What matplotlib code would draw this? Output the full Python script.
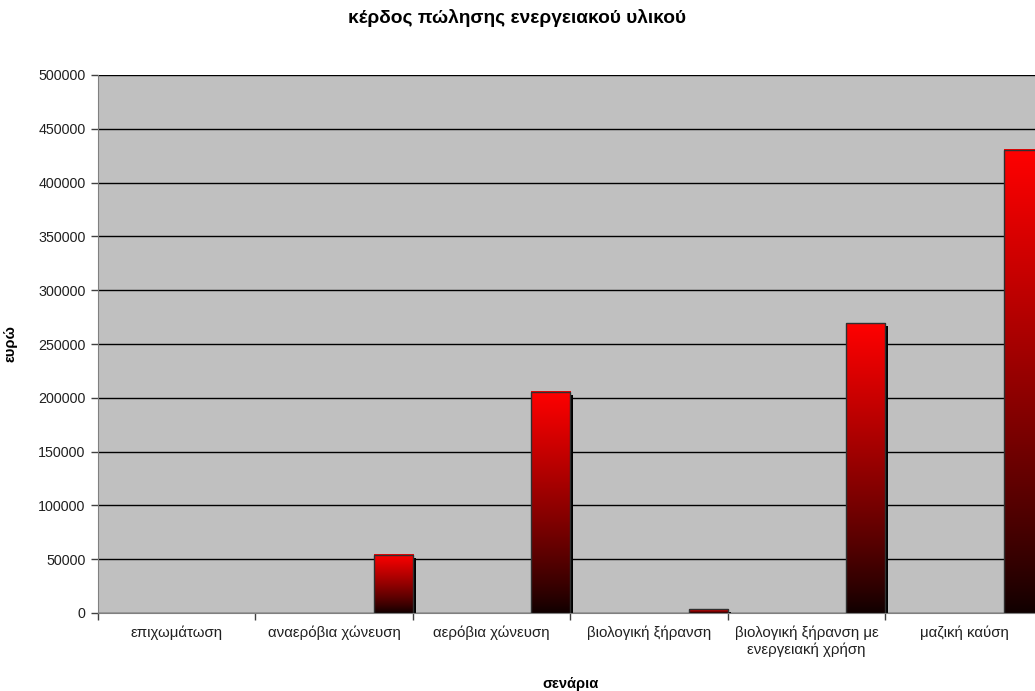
import numpy as np
import matplotlib
matplotlib.use('Agg')
import matplotlib.pyplot as plt
import matplotlib.transforms as mtransforms
from matplotlib.patches import Rectangle

plt.rcParams['font.family'] = ['Liberation Sans', 'DejaVu Sans']

# scenarios and energy sales profit (euro)
scenarios = ['επιχωμάτωση', 'αναερόβια χώνευση', 'αερόβια χώνευση',
             'βιολογική ξήρανση', 'βιολογική ξήρανση με\nενεργειακή χρήση',
             'μαζική καύση']
profit = [0, 54000, 205700, 3400, 269200, 430300]
y_ticks = list(range(0, 500001, 50000))

W, H = 1035, 691
fig = plt.figure(figsize=(W / 100, H / 100), dpi=100)
fig.patch.set_facecolor('white')
ax = fig.add_axes([98 / W, (H - 613) / H, 945 / W, 538 / H])
ax.set_facecolor('#c0c0c0')

n = len(scenarios)

# red-to-black vertical gradient
grad = np.linspace(0, 1, 256).reshape(-1, 1)
r = 0.06 + 0.94 * grad ** 0.85
rgb = np.dstack([r, np.zeros_like(r), np.zeros_like(r)])

bw = 0.248
shadow_tr = mtransforms.offset_copy(ax.transData, fig=fig, x=3, y=-3, units='dots')
for i, v in enumerate(profit):
    if v <= 0:
        continue
    x0 = i + 1 - bw
    ax.add_patch(Rectangle((x0, 0), bw, v, facecolor='black', edgecolor='none',
                           transform=shadow_tr, zorder=2))
    ax.imshow(rgb, extent=[x0, x0 + bw, 0, v], origin='lower', aspect='auto',
              interpolation='bilinear', zorder=3)
    ax.add_patch(Rectangle((x0, 0), bw, v, facecolor='none', edgecolor='#303030',
                           linewidth=1.0, zorder=4))
ax.set_xlim(0, n)
ax.set_ylim(0, 500000)

ax.set_yticks(y_ticks)
ax.set_yticklabels([str(t) for t in y_ticks])
ax.yaxis.grid(True, color='black', linewidth=1.0)
ax.set_axisbelow(True)

ax.set_xticks(np.arange(0, n + 1))
ax.set_xticklabels([])
ax.set_xticks(np.arange(n) + 0.5, minor=True)
ax.set_xticklabels(scenarios, minor=True, fontsize=10.8, color='#202020')
ax.tick_params(axis='x', which='minor', length=0, pad=9)
ax.tick_params(axis='x', which='major', length=5, width=1, color='#404040', direction='out')
ax.tick_params(axis='y', length=5, width=1, color='#404040', direction='out',
               labelsize=10.3, labelcolor='#202020', pad=4)

for side in ['top', 'right']:
    ax.spines[side].set_visible(False)
ax.spines['left'].set_color('#808080')
ax.spines['bottom'].set_color('#808080')

ax.set_ylabel('ευρώ', fontsize=10.5, fontweight='bold')
ax.yaxis.set_label_coords(-0.0847, 0.5)
ax.set_xlabel('σενάρια', fontsize=10.5, fontweight='bold')
ax.xaxis.set_label_coords(0.4995, -0.119)

fig.text(0.5, 1 - 18 / H, 'κέρδος πώλησης ενεργειακού υλικού', ha='center', va='center',
         fontsize=13.8, fontweight='bold')

fig.savefig('out.png', dpi=100)
